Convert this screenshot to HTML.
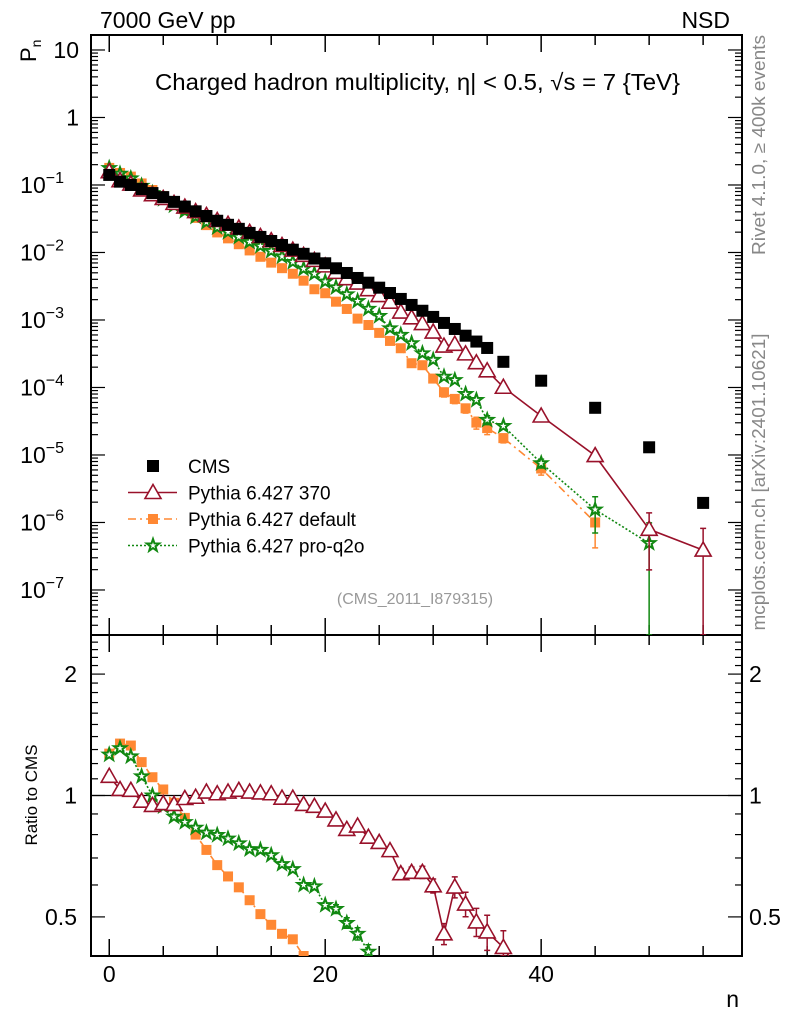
<!DOCTYPE html>
<html><head><meta charset="utf-8"><style>
html,body{margin:0;padding:0;background:#fff;overflow:hidden;width:786px;height:1024px}
svg{display:block;font-family:"Liberation Sans",sans-serif}
</style></head><body>
<svg id="chart" width="786" height="1024" viewBox="0 0 786 1024" xmlns="http://www.w3.org/2000/svg">
<defs>
<clipPath id="clipMain"><rect x="91" y="35" width="651" height="600"/></clipPath>
<clipPath id="clipRatio"><rect x="91" y="635" width="651" height="321"/></clipPath>
</defs>
<g id="axes"></g>
<g id="series-main" clip-path="url(#clipMain)"></g>
<g id="series-ratio" clip-path="url(#clipRatio)"></g>
<text x="100" y="28" font-size="23">7000 GeV pp</text>
<text x="730" y="28" font-size="23" text-anchor="end">NSD</text>
<text x="155" y="90" font-size="23" textLength="525" lengthAdjust="spacingAndGlyphs">Charged hadron multiplicity, η| &lt; 0.5, √s = 7 {TeV}</text>
<text transform="translate(36,62) rotate(-90)" font-size="22">P<tspan font-size="14" dy="5">n</tspan></text>
<text transform="translate(37,795) rotate(-90)" font-size="17" text-anchor="middle">Ratio to CMS</text>
<text x="739" y="1007" font-size="23" text-anchor="end">n</text>
<text transform="translate(765,145) rotate(-90)" font-size="18" fill="#888" text-anchor="middle" textLength="220" lengthAdjust="spacingAndGlyphs">Rivet 4.1.0, ≥ 400k events</text>
<text transform="translate(765,482) rotate(-90)" font-size="18" fill="#888" text-anchor="middle" textLength="297" lengthAdjust="spacingAndGlyphs">mcplots.cern.ch [arXiv:2401.10621]</text>
<text x="415" y="604" font-size="16" fill="#999" text-anchor="middle">(CMS_2011_I879315)</text>
<g id="legend"></g>
</svg>
<script>
const nVals=[0,1,2,3,4,5,6,7,8,9,10,11,12,13,14,15,16,17,18,19,20,21,22,23,24,25,26,27,28,29,30,31,32,33,34,35,36.5,40,45,50,55];
const cmsVals=[0.141,0.112,0.100,0.0871,0.0759,0.0661,0.0562,0.0479,0.0407,0.0347,0.0295,0.0257,0.0224,0.0195,0.0170,0.0148,0.0129,0.0110,0.00955,0.00813,0.00692,0.00583,0.00497,0.00419,0.00357,0.00301,0.00251,0.00205,0.00167,0.00137,0.00111,0.000904,0.000736,0.000585,0.000479,0.000385,0.00024,0.000126,0.00005,0.000013,0.00000195];
const ratio370=[1.116,1.035,1.03,0.968,0.945,0.955,0.95,0.983,0.99,1.02,1.01,1.02,1.03,1.02,1.015,1.01,0.985,0.985,0.95,0.94,0.915,0.87,0.824,0.84,0.788,0.765,0.73,0.64,0.645,0.645,0.597,0.454,0.593,0.538,0.486,0.459,0.42,0.30,0.196,0.061,0.2];
const err370=[0.005,0.005,0.005,0.005,0.005,0.005,0.005,0.005,0.005,0.005,0.005,0.005,0.005,0.005,0.005,0.005,0.006,0.006,0.007,0.008,0.009,0.01,0.012,0.013,0.015,0.017,0.02,0.03,0.03,0.035,0.04,0.06,0.06,0.07,0.08,0.1,0.1,0.1,0.15,0.75,1.1];
const ratioDefault=[1.27,1.345,1.33,1.21,1.11,1.035,0.959,0.88,0.80,0.733,0.672,0.63,0.592,0.55,0.508,0.478,0.454,0.44,0.40,0.351,0.36,0.32,0.293,0.25,0.236,0.214,0.195,0.186,0.137,0.156,0.122,0.094,0.092,0.084,0.063,0.065,0.074,0.05,0.02,null,null];
const errDefault=[0.005,0.005,0.005,0.005,0.005,0.005,0.005,0.005,0.006,0.006,0.007,0.008,0.009,0.01,0.01,0.012,0.014,0.016,0.02,0.025,0.03,0.035,0.04,0.05,0.06,0.07,0.08,0.09,0.1,0.12,0.13,0.15,0.15,0.15,0.2,0.2,0.15,0.2,0.58,0,0];
const ratioQ2o=[1.263,1.31,1.25,1.116,1.0,0.94,0.886,0.859,0.832,0.809,0.798,0.782,0.761,0.736,0.733,0.711,0.676,0.657,0.60,0.595,0.535,0.523,0.483,0.454,0.41,0.38,0.30,0.293,0.271,0.234,0.231,0.16,0.175,0.137,0.136,0.086,0.112,0.06,0.031,0.038,null];
const errQ2o=[0.005,0.005,0.005,0.005,0.005,0.005,0.005,0.005,0.005,0.006,0.006,0.007,0.008,0.009,0.01,0.01,0.012,0.014,0.016,0.02,0.02,0.025,0.03,0.035,0.04,0.05,0.06,0.06,0.07,0.08,0.09,0.1,0.1,0.12,0.12,0.15,0.12,0.15,0.55,1.0,0];
const xTicksMajor=[0,20,40];
const yMainMajor=[-7,-6,-5,-4,-3,-2,-1,0,1];
const yMainLabels=["10","10","10","10","10","10","10","1","10"];
const ratioMajor=[0.5,1,2];

const NS="http://www.w3.org/2000/svg";
const L=91,R=742,T=35,MB=635,RB=956;
const xMin=-1.69,xMax=58.6;
const logTop=1.222,logBot=-7.667;
const rTop=2.5,rBot=0.4;
function X(n){return L+(n-xMin)/(xMax-xMin)*(R-L);}
function YM(v){return T+(logTop-Math.log10(v))/(logTop-logBot)*(MB-T);}
function YR(r){return MB+(Math.log10(rTop)-Math.log10(r))/(Math.log10(rTop)-Math.log10(rBot))*(RB-MB);}
function mk(tag,attrs,parent){const e=document.createElementNS(NS,tag);for(const k in attrs)e.setAttribute(k,attrs[k]);parent.appendChild(e);return e;}
const axes=document.getElementById('axes');
const gM=document.getElementById('series-main');
const gR=document.getElementById('series-ratio');

let f1=mk('rect',{x:L,y:T,width:R-L,height:MB-T,fill:'none',stroke:'#000','stroke-width':2},axes);


let f2=mk('rect',{x:L,y:MB,width:R-L,height:RB-MB,fill:'none',stroke:'#000','stroke-width':2},axes);



for(let v=0;v<=55;v+=5){
  const maj=xTicksMajor.includes(v);const len=maj?17:10;const x=X(v);
  [[MB,-1],[T,1],[RB,-1],[MB,1]].forEach(([y0,d])=>{
    const t=mk('line',{x1:x,x2:x,y1:y0,y2:y0+d*len,stroke:'#000','stroke-width':1.5},axes);
    
    
  });
}
xTicksMajor.forEach(v=>{
  const t=mk('text',{x:X(v),y:982,'font-size':23,'text-anchor':'middle'},axes);t.textContent=v;
  
  
});
for(let d=-8;d<=1;d++){
  for(let m=1;m<=9;m++){
    const v=m*Math.pow(10,d);const y=YM(v);
    if(y<T||y>MB)continue;
    const len=m===1?14:7;
    [[L,1],[R,-1]].forEach(([x0,s])=>{
      const t=mk('line',{x1:x0,x2:x0+s*len,y1:y,y2:y,stroke:'#000','stroke-width':1.2},axes);
      
      
    });
  }
}
yMainMajor.forEach((e,i)=>{
  const y=YM(Math.pow(10,e));
  const t=mk('text',{x:e<=-1?64:79,y:y+8,'font-size':23,'text-anchor':'end'},axes);
  t.textContent=yMainLabels[i];
  if(e<=-1){const s=mk('tspan',{dy:-10,'font-size':16},t);s.textContent='−'+(-e);}
  
  
});
const rMinor=[0.4,0.6,0.7,0.8,0.9,1.1,1.2,1.3,1.4,1.5,1.6,1.7,1.8,1.9,2.1,2.2,2.3,2.4];
rMinor.concat(ratioMajor).forEach(r=>{
  const y=YR(r);const len=ratioMajor.includes(r)?14:7;
  [[L,1],[R,-1]].forEach(([x0,s])=>{
    const t=mk('line',{x1:x0,x2:x0+s*len,y1:y,y2:y,stroke:'#000','stroke-width':1.2},axes);
    
    
  });
});
ratioMajor.forEach(r=>{
  [[77,'end'],[749,'start']].forEach(([x,a])=>{
    const t=mk('text',{x:x,y:YR(r)+8,'font-size':23,'text-anchor':a},axes);t.textContent=r;
    
    
  });
});
let one=mk('line',{x1:L,x2:R,y1:YR(1),y2:YR(1),stroke:'#000','stroke-width':1.2},axes);



function marker(g,type,x,y,col){
  let e;
  if(type==='sq'){e=mk('rect',{x:x-6,y:y-6,width:12,height:12,fill:'#000'},g);}
  else if(type==='osq'){e=mk('rect',{x:x-5,y:y-5,width:10,height:10,fill:col},g);}
  else if(type==='tri'){e=mk('polygon',{points:`${x},${y-8} ${x+8},${y+6} ${x-8},${y+6}`,fill:'#fff',stroke:col,'stroke-width':1.6},g);}
  else{let p=[];for(let i=0;i<10;i++){const a=-Math.PI/2+i*Math.PI/5;const rr=i%2?2.6:6.5;p.push((x+rr*Math.cos(a)).toFixed(1)+','+(y+rr*Math.sin(a)).toFixed(1));}
    e=mk('polygon',{points:p.join(' '),fill:'#fff',stroke:col,'stroke-width':2},g);}
  return e;
}
function truncate(pts,bot){
  const out=[];
  for(let i=0;i<pts.length;i++){
    const p=pts[i];
    if(p[1]<=bot){out.push([p[0],p[1]]);continue;}
    if(out.length){const q=out[out.length-1];const t=(bot-q[1])/(p[1]-q[1]);out.push([q[0]+t*(p[0]-q[0]),bot]);}
    break;
  }
  return out;
}
function drawSeries(name,ratio,err,col,dash,type){
  const mainPts=[],ratPts=[];
  ratio.forEach((r,i)=>{ if(r==null)return;
    const v=cmsVals[i]*r;mainPts.push([X(nVals[i]),YM(v),v,err[i]]);ratPts.push([X(nVals[i]),YR(r),r,err[i]]);});
  [[gM,mainPts,YM,'main',MB],[gR,ratPts,YR,'ratio',RB]].forEach(([g,pts,yf,pn,bot])=>{
    const lp=truncate(pts,bot);
    const pl=mk('polyline',{points:lp.map(p=>p[0].toFixed(1)+','+p[1].toFixed(1)).join(' '),fill:'none',stroke:col,'stroke-width':1.6,'stroke-dasharray':dash},g);
    
    
    pts.forEach(p=>{
      if(p[1]>bot+8)return;
      if(p[3]>0){const up=yf(p[2]*(1+p[3]));const dn=p[3]>=1?bot:Math.min(bot,yf(p[2]*(1-p[3])));
        if(dn-up>8){const eb=mk('path',{d:`M${p[0]},${up}V${dn}M${p[0]-3},${up}h6M${p[0]-3},${dn}h6`,stroke:col,'stroke-width':1.5,fill:'none'},g);
        
        }}
      const m=marker(g,type,p[0],p[1],col);
      
      
    });
  });
}
drawSeries('pythia-default',ratioDefault,errDefault,'#ff8833','8 4 2 4','osq');
drawSeries('pythia-pro-q2o',ratioQ2o,errQ2o,'#118811','2 2','star');
drawSeries('pythia-370',ratio370,err370,'#99112a','','tri');
cmsVals.forEach((v,i)=>{const m=marker(gM,'sq',X(nVals[i]),YM(v),'#000');
  
  });

const lg=document.getElementById('legend');
const rows=[['CMS','#000','','sq',null],['Pythia 6.427 370','#99112a','','tri',1],['Pythia 6.427 default','#ff8833','8 4 2 4','osq',1],['Pythia 6.427 pro-q2o','#118811','2 2','star',1]];
rows.forEach((r,i)=>{const y=466+i*26.5;
  if(r[4]){const l=mk('line',{x1:128,x2:177,y1:y,y2:y,stroke:r[1],'stroke-width':1.5,'stroke-dasharray':r[2]},lg);
    
    }
  const m=marker(lg,r[3],153,y,r[1]);
  
  
  const t=mk('text',{x:188,y:y+7,'font-size':19},lg);t.textContent=r[0];
  
  
});
</script>
</body></html>
